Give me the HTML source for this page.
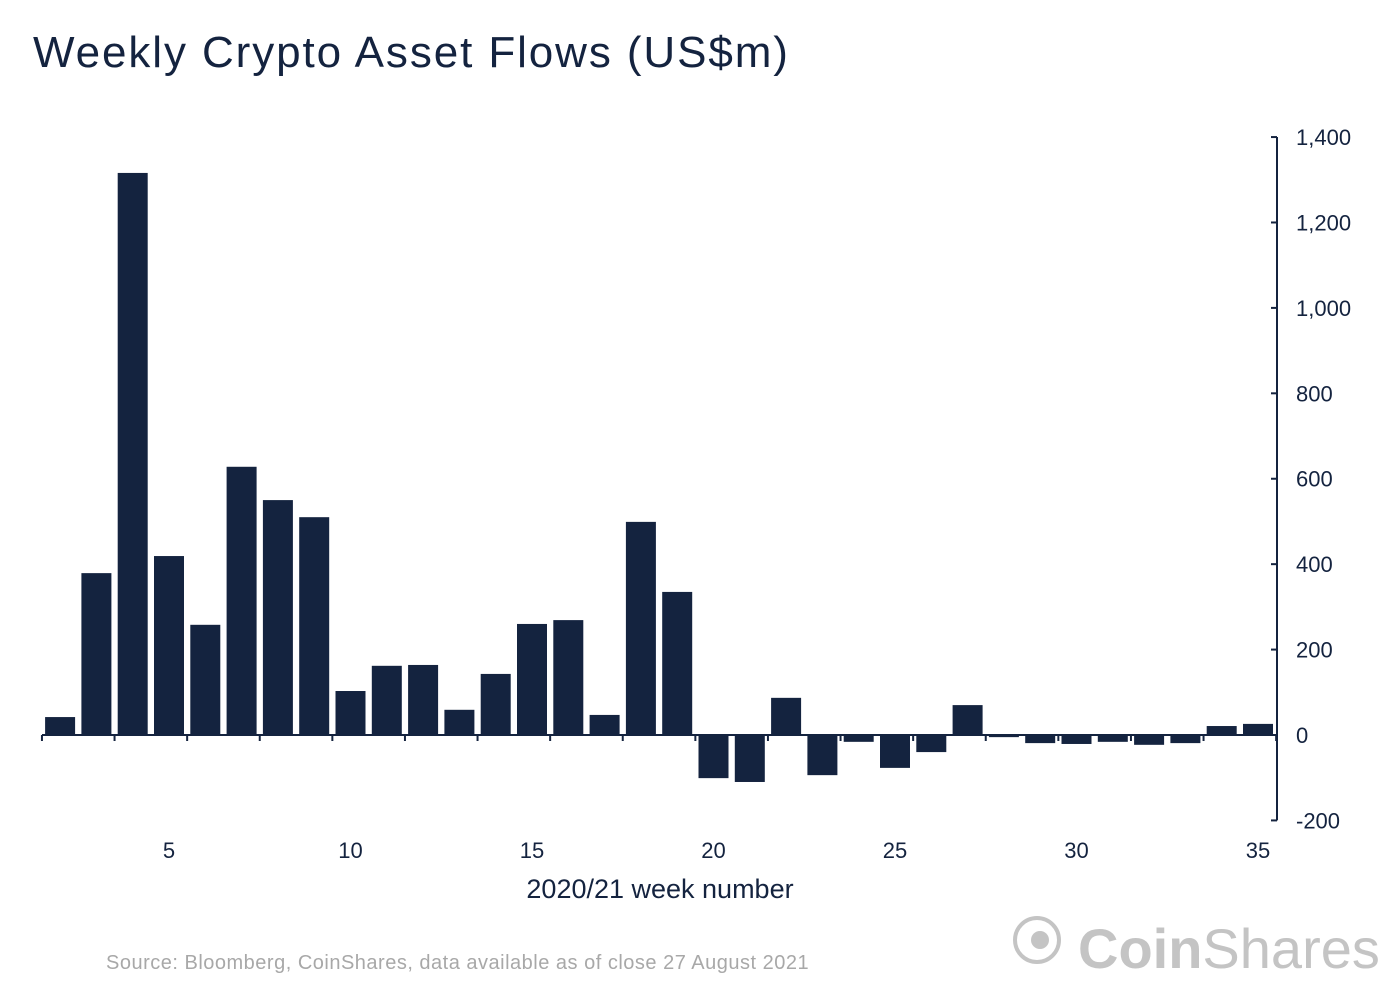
<!DOCTYPE html>
<html><head><meta charset="utf-8"><style>
body{margin:0;background:#fff;width:1400px;height:988px;overflow:hidden;font-family:"Liberation Sans",sans-serif}
</style></head><body>
<svg width="1400" height="988" xmlns="http://www.w3.org/2000/svg">
<text x="33" y="67" font-size="44" letter-spacing="1.9" fill="#14233f">Weekly Crypto Asset Flows (US$m)</text>
<g id="bars"></g>
<g id="axes"></g>
<text x="660" y="898" font-size="27" fill="#14233f" text-anchor="middle">2020/21 week number</text>
<text x="106" y="969" font-size="20" letter-spacing="0.5" fill="#a8a8a8">Source: Bloomberg, CoinShares, data available as of close 27 August 2021</text>
<g>
<circle cx="1037" cy="940" r="22" fill="none" stroke="#c4c4c4" stroke-width="4"/>
<circle cx="1040" cy="940" r="9" fill="#c4c4c4"/>
<text x="1078" y="968" font-size="56" fill="#c4c4c4"><tspan font-weight="bold">Coin</tspan>Shares</text>
</g>
</svg>
<script>
const weeks=[2,3,4,5,6,7,8,9,10,11,12,13,14,15,16,17,18,19,20,21,22,23,24,25,26,27,28,29,30,31,32,33,34,35];
const flows=[42,379,1316,419,258,628,550,510,103,162,164,59,143,260,269,47,499,335,-101,-110,87,-94,-16,-77,-40,70,-5,-19,-21,-16,-23,-19,21,26];
const yTicks=[-200,0,200,400,600,800,1000,1200,1400];
const yTickLabels=["-200","0","200","400","600","800","1,000","1,200","1,400"];
const xTicks=[5,10,15,20,25,30,35];
const NS="http://www.w3.org/2000/svg";
const x=w=>169+(w-5)*36.3;
const y=v=>735-v*0.4271;
const bars=document.getElementById('bars'),axes=document.getElementById('axes');
function mk(tag,attrs,parent){const e=document.createElementNS(NS,tag);for(const k in attrs)e.setAttribute(k,attrs[k]);parent.appendChild(e);return e;}
weeks.forEach((w,i)=>{const v=flows[i];
const r=mk('rect',{x:x(w)-15,y:Math.min(y(v),y(0)),width:30,height:Math.abs(y(v)-y(0)),fill:'#14233f'},bars);

});
mk('line',{x1:42,x2:1277,y1:y(0),y2:y(0),stroke:'#14233f','stroke-width':2},axes);
for(let w=1.5;w<=35.5;w+=2){mk('line',{x1:x(w),x2:x(w),y1:y(0),y2:y(0)+6,stroke:'#14233f','stroke-width':2},axes);}
mk('line',{x1:1277,x2:1277,y1:y(1400),y2:y(-200),stroke:'#14233f','stroke-width':2},axes);
yTicks.forEach((t,i)=>{mk('line',{x1:1271,x2:1277,y1:y(t),y2:y(t),stroke:'#14233f','stroke-width':2},axes);
const tx=mk('text',{x:1296,y:y(t)+8,'font-size':22,fill:'#14233f'},axes);tx.textContent=yTickLabels[i];

});
xTicks.forEach(w=>{const tx=mk('text',{x:x(w),y:858,'font-size':22,fill:'#14233f','text-anchor':'middle'},axes);tx.textContent=w;

});
</script>
</body></html>
